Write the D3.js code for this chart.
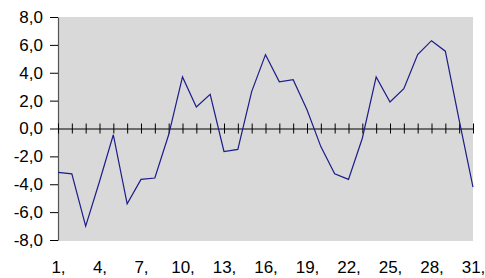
<!DOCTYPE html>
<html>
<head>
<meta charset="utf-8">
<script src="https://cdn.jsdelivr.net/npm/d3@7"></script>
<style>
  body { margin: 0; background: #fff; }
  svg text { font-family: "Liberation Sans", Arial, sans-serif; font-size: 17px; fill: #000; }
</style>
</head>
<body>
<div id="chart"></div>
<script>
var days = d3.range(1, 32);
var values = [-3.15, -3.25, -7.0, -3.8, -0.45, -5.4, -3.65, -3.55, -0.45, 3.7,
              1.55, 2.45, -1.65, -1.5, 2.65, 5.3, 3.35, 3.5, 1.35, -1.3,
              -3.25, -3.65, -0.7, 3.7, 1.9, 2.85, 5.3, 6.3, 5.55, 0.6, -4.2];
var yTicks = [-8, -6, -4, -2, 0, 2, 4, 6, 8];
var xLabelDays = [1, 4, 7, 10, 13, 16, 19, 22, 25, 28, 31];

var W = 485, H = 278;
var plotLeft = 58, plotRight = 473, plotTop = 17, plotBottom = 240;

var locale = d3.formatLocale({decimal: ",", thousands: ".", grouping: [3], currency: ["", ""], minus: "-"});
var fmt = locale.format(".1f");

var svg = d3.select("#chart").append("svg")
  .attr("width", W)
  .attr("height", H);

var x = d3.scaleLinear().domain([1, 31]).range([plotLeft, plotRight]);
var y = d3.scaleLinear().domain([-8, 8]).range([plotBottom, plotTop]);

// plot area
svg.append("rect")
  .attr("x", plotLeft)
  .attr("y", plotTop)
  .attr("width", plotRight - plotLeft)
  .attr("height", plotBottom - plotTop + 1)
  .attr("fill", "#d9d9d9");

// y axis
var yAxis = svg.append("g")
  .attr("transform", "translate(" + plotLeft + ",0)")
  .call(d3.axisLeft(y).tickValues(yTicks).tickSize(8).tickSizeOuter(0).tickPadding(7).tickFormat(fmt));
yAxis.select(".domain").attr("stroke", "#555").attr("stroke-width", 1.2);
yAxis.selectAll(".tick line").attr("stroke", "#000");
yAxis.selectAll("text").attr("font-size", 17).attr("font-family", "Liberation Sans, Arial, sans-serif");

// zero line with crossing ticks
var zeroAxis = svg.append("g")
  .attr("transform", "translate(0," + y(0) + ")")
  .call(d3.axisBottom(x).tickValues(days).tickSizeOuter(0).tickFormat(""));
zeroAxis.select(".domain").attr("stroke", "#000").attr("stroke-width", 1.2);
zeroAxis.selectAll(".tick line").attr("y1", -5).attr("y2", 5).attr("stroke", "#000");

// x labels
var xAxis = svg.append("g")
  .attr("transform", "translate(0,258)")
  .call(d3.axisBottom(x).tickValues(xLabelDays).tickSize(0).tickPadding(3)
    .tickFormat(function(d){ return d + ","; }));
xAxis.select(".domain").remove();
xAxis.selectAll("text").attr("font-size", 17).attr("font-family", "Liberation Sans, Arial, sans-serif");

// series line
var line = d3.line()
  .x(function(d, i){ return x(days[i]); })
  .y(function(d){ return y(d); });

svg.append("path")
  .datum(values)
  .attr("fill", "none")
  .attr("stroke", "#1c1c8a")
  .attr("stroke-width", 1.2)
  .attr("d", line);
</script>
</body>
</html>
